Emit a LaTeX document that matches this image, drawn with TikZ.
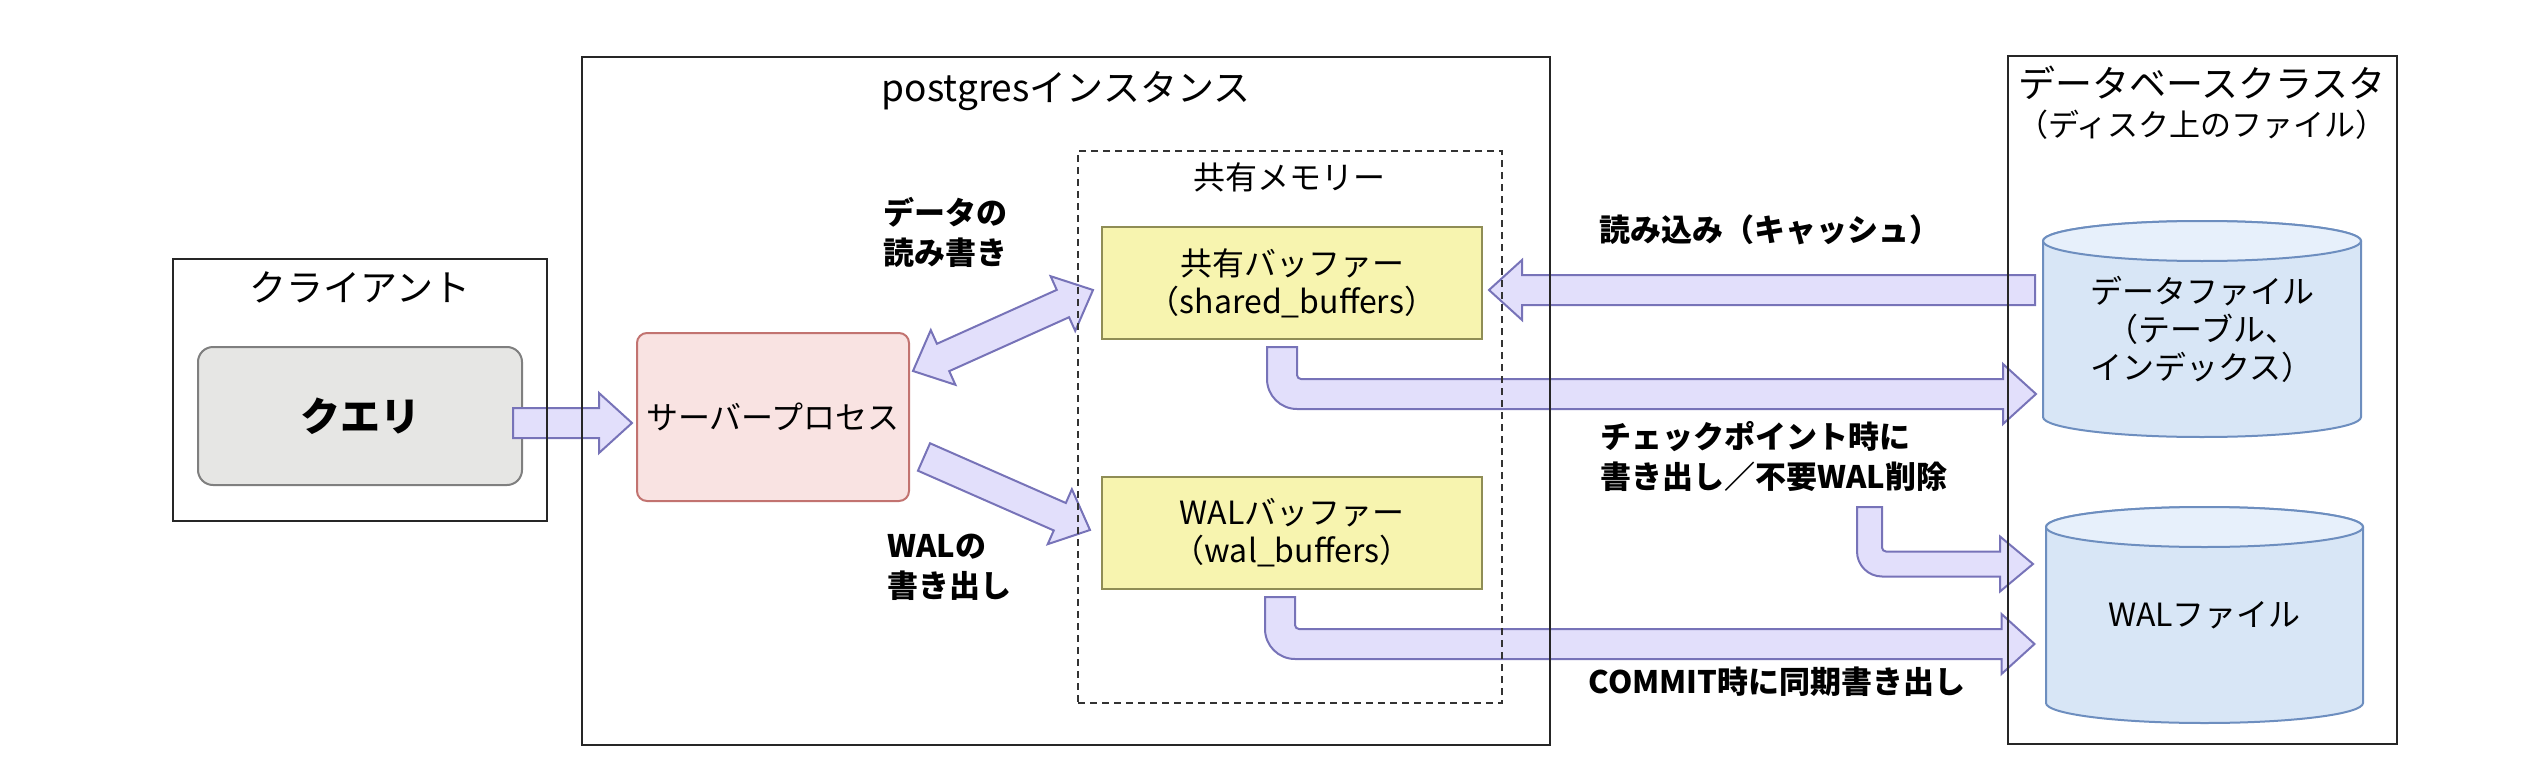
\documentclass[tikz,border=0pt]{standalone}
\usepackage{fontspec}
\setmainfont{Noto Sans CJK JP}
\usetikzlibrary{calc}

\definecolor{arrowfill}{HTML}{E2DFFB}
\definecolor{arrowline}{HTML}{7773B8}
\definecolor{queryfill}{HTML}{E6E6E4}
\definecolor{queryline}{HTML}{7F7F7F}
\definecolor{serverfill}{HTML}{F9E3E2}
\definecolor{serverline}{HTML}{C27370}
\definecolor{bufferfill}{HTML}{F7F4AF}
\definecolor{bufferline}{HTML}{8F8D55}
\definecolor{diskbody}{HTML}{D8E6F6}
\definecolor{disktop}{HTML}{E7F0FB}
\definecolor{diskline}{HTML}{6D8EBF}

\pgfdeclarelayer{back}
\pgfdeclarelayer{front}
\pgfsetlayers{back,main,front}

\newcommand\titlesize{\fontsize{37pt}{42pt}\selectfont}
\newcommand\boxsize{\fontsize{32pt}{38pt}\selectfont}
\newcommand\notesize{\fontsize{31pt}{40pt}\selectfont\bfseries}

% straight fat arrow, tip at #2
\newcommand\fatarrow[2]{%
  \draw[fatarrow] let \p1=(#1), \p2=(#2), \n1={atan2(\y2-\y1,\x2-\x1)} in
    ($(\p1)+({\n1+90}:15pt)$) -- ($(\p2)+({\n1+180}:33pt)+({\n1+90}:15pt)$)
    -- ($(\p2)+({\n1+180}:33pt)+({\n1+90}:30pt)$) -- (\p2)
    -- ($(\p2)+({\n1+180}:33pt)+({\n1-90}:30pt)$)
    -- ($(\p2)+({\n1+180}:33pt)+({\n1-90}:15pt)$)
    -- ($(\p1)+({\n1-90}:15pt)$) -- cycle;}

% fat arrow with a tip at both ends
\newcommand\dblarrow[2]{%
  \draw[fatarrow] let \p1=(#1), \p2=(#2), \n1={atan2(\y2-\y1,\x2-\x1)} in
    (\p1) -- ($(\p1)+(\n1:33pt)+({\n1+90}:30pt)$)
    -- ($(\p1)+(\n1:33pt)+({\n1+90}:15pt)$)
    -- ($(\p2)+({\n1+180}:33pt)+({\n1+90}:15pt)$)
    -- ($(\p2)+({\n1+180}:33pt)+({\n1+90}:30pt)$) -- (\p2)
    -- ($(\p2)+({\n1+180}:33pt)+({\n1-90}:30pt)$)
    -- ($(\p2)+({\n1+180}:33pt)+({\n1-90}:15pt)$)
    -- ($(\p1)+(\n1:33pt)+({\n1-90}:15pt)$)
    -- ($(\p1)+(\n1:33pt)+({\n1-90}:30pt)$) -- cycle;}

% fat arrow going down, then right (#1 = half shaft width)
\newcommand\elbowarrow[3][15pt]{%
  \draw[fatarrow] let \p1=(#2), \p2=(#3) in
    (\x1-#1,\y1) -- (\x1-#1,\y2+#1)
    arc[start angle=180,end angle=270,radius=2*#1]
    -- (\x2-33pt,\y2-#1) -- (\x2-33pt,\y2-#1-15pt) -- (\x2,\y2)
    -- (\x2-33pt,\y2+#1+15pt) -- (\x2-33pt,\y2+#1) -- (\x1+#1+4pt,\y2+#1)
    arc[start angle=270,end angle=180,radius=4pt] -- (\x1+#1,\y1) -- cycle;}

% disk drawn round a node
\newcommand\diskshape[1]{%
  \begin{pgfonlayer}{back}
  \draw[draw=diskline,line width=2pt,fill=diskbody] let \p1=(#1.north west), \p2=(#1.south east) in
    (\x1,\y1-20pt) -- (\x1,\y2+20pt)
    arc[start angle=180,end angle=360,x radius={(\x2-\x1)/2},y radius=20pt]
    -- (\x2,\y1-20pt)
    arc[start angle=0,end angle=180,x radius={(\x2-\x1)/2},y radius=20pt] -- cycle;
  \draw[draw=diskline,line width=2pt,fill=disktop] let \p1=(#1.north west), \p2=(#1.south east) in
    ({(\x1+\x2)/2},\y1-20pt) ellipse[x radius={(\x2-\x1)/2},y radius=20pt];
  \end{pgfonlayer}}

\begin{document}
\begin{tikzpicture}[x=1pt,y=1pt,
    outerbox/.style={draw=black!85,line width=2.5pt,outer sep=0pt,inner sep=0pt},
    membox/.style={draw=black!80,line width=2pt,dash pattern=on 7pt off 5pt,outer sep=0pt},
    titletext/.style={font=\titlesize,inner sep=0pt},
    plaintext/.style={font=\boxsize,inner sep=0pt,align=center},
    note/.style={font=\notesize,inner sep=0pt,align=left},
    querybox/.style={draw=queryline,fill=queryfill,line width=2pt,rounded corners=15pt,
      minimum width=324pt,minimum height=138pt,outer sep=0pt,
      font=\fontsize{40pt}{46pt}\selectfont\bfseries},
    serverbox/.style={draw=serverline,fill=serverfill,line width=2pt,rounded corners=10pt,
      minimum width=272pt,minimum height=168pt,outer sep=0pt,font=\boxsize},
    bufferbox/.style={draw=bufferline,fill=bufferfill,line width=2pt,
      minimum width=380pt,minimum height=112pt,outer sep=0pt,font=\boxsize,align=center},
    disk/.style={minimum width=318pt,minimum height=216pt,outer sep=0pt,font=\boxsize,align=center},
    fatarrow/.style={draw=arrowline,fill=arrowfill,line width=2pt}]

  \useasboundingbox (0,0) rectangle (2528,-784);

  % Containers (drawn above the arrows)
  \begin{pgfonlayer}{front}
    \node[outerbox,minimum width=374pt,minimum height=262pt] (client) at (360,-390) {};
    \node[outerbox,minimum width=968pt,minimum height=688pt] (instance) at (1066,-401) {};
    \node[membox,minimum width=424pt,minimum height=552pt] (shmem) at (1290,-427) {};
    \node[outerbox,minimum width=389pt,minimum height=688pt] (cluster) at (2202.5,-400) {};
  \end{pgfonlayer}

  % Client
  \node[titletext] (clientTitle) at (360,-287) {クライアント};
  \node[querybox] (query) at (360,-416) {クエリ};

  % postgres instance
  \node[titletext] (instanceTitle) at (1066,-91) {postgresインスタンス};
  \node[plaintext] (shmemTitle) at (1289,-177) {共有メモリー};
  \node[serverbox] (server) at (773,-417) {サーバープロセス};
  \node[bufferbox] (sharedbuf) at (1292,-283) {共有バッファー\\（shared\_buffers）};
  \node[bufferbox] (walbuf) at (1292,-533) {WALバッファー\\（wal\_buffers）};

  % Database cluster
  \node[titletext] (clusterTitle) at (2202,-83) {データベースクラスタ};
  \node[inner sep=0pt,font=\fontsize{31pt}{36pt}\selectfont] (clusterSub) at (2202,-125) {（ディスク上のファイル）};
  \node[disk] (datafile) at (2202,-329) {データファイル\\（テーブル、\\インデックス）};
  \node[disk,minimum width=317pt] (walfile) at (2204.5,-615) {WALファイル};
  \diskshape{datafile}
  \diskshape{walfile}

  % Labels
  \node[note,anchor=west] (rwNote) at (883,-232) {データの\\読み書き};
  \node[note,anchor=west] (walNote) at (887,-567) {WALの\\書き出し};
  \node[note] (readNote) at (1770,-230) {読み込み（キャッシュ）};
  \node[note,anchor=west] (ckptNote) at (1600,-456) {チェックポイント時に\\書き出し／不要WAL削除};
  \node[note] (commitNote) at (1777,-682) {COMMIT時に同期書き出し};

  % Arrows
  \fatarrow{[xshift=-9pt,yshift=-7pt]query.east}{[xshift=-5pt,yshift=-6pt]server.west}
  \dblarrow{[xshift=4pt,yshift=-38pt]server.north east}{[xshift=-9pt,yshift=-7pt]sharedbuf.west}
  \fatarrow{[xshift=15pt,yshift=-40pt]server.east}{[xshift=-12pt,yshift=3pt]walbuf.west}
  \fatarrow{[xshift=-8pt,yshift=39pt]datafile.west}{[xshift=7pt,yshift=-7pt]sharedbuf.east}
  \elbowarrow{[xshift=-10pt,yshift=-8pt]sharedbuf.south}{[xshift=-7pt,yshift=-65pt]datafile.west}
  \coordinate (ckptStart) at (1869.5,-507);
  \elbowarrow[12.5pt]{ckptStart}{[xshift=-13pt,yshift=51pt]walfile.west}
  \elbowarrow{[xshift=-12pt,yshift=-8pt]walbuf.south}{[xshift=-11.5pt,yshift=-29pt]walfile.west}
\end{tikzpicture}
\end{document}
